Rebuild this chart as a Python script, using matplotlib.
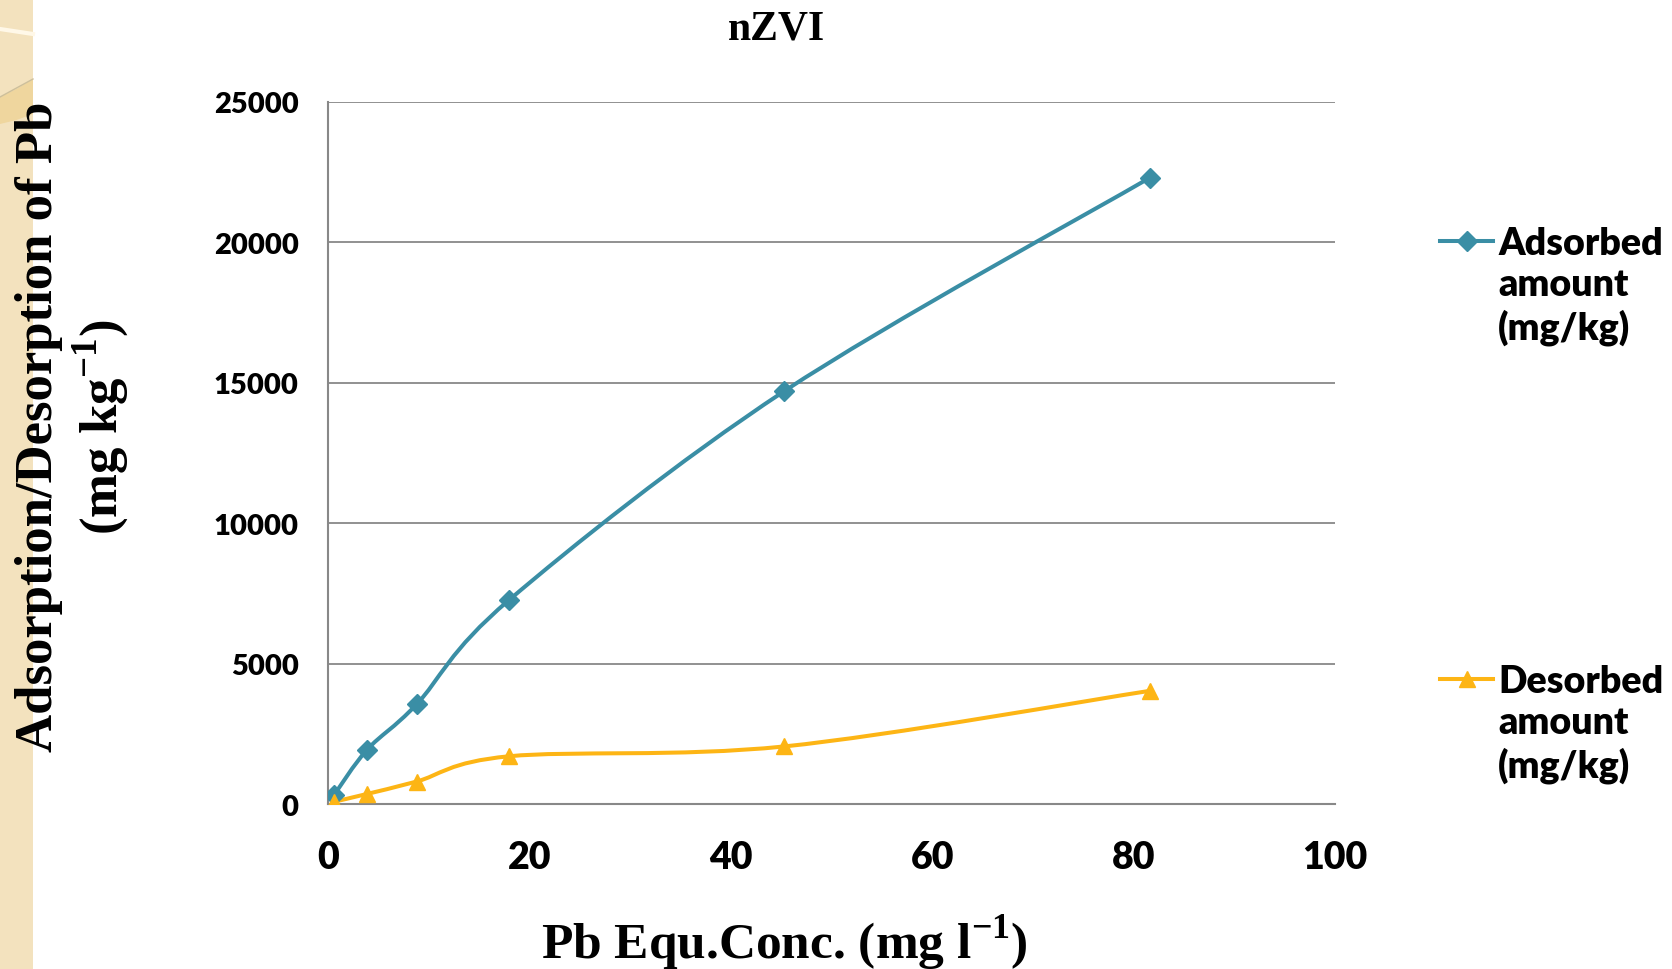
import numpy as np
import matplotlib
matplotlib.use("Agg")
import matplotlib.pyplot as plt
from matplotlib.path import Path
from matplotlib.patches import PathPatch, Rectangle, Polygon
from matplotlib.lines import Line2D

# data
conc = [0.6, 3.9, 8.8, 18.0, 45.3, 81.6]
adsorbed = [320, 1940, 3550, 7270, 14700, 22300]
desorbed = [80, 360, 800, 1700, 2050, 4030]

teal = "#3A8EA5"
gold = "#FDB515"
grid_c = "#888888"
serif = "Liberation Serif"
sans = "Lato"

plt.rcParams["mathtext.fontset"] = "custom"
plt.rcParams["mathtext.rm"] = "Liberation Serif:bold"
plt.rcParams["mathtext.bf"] = "Liberation Serif:bold"


def smooth_path(x, y):
    # excel style smoothed line: bezier with control points from neighbours
    p = np.column_stack([x, y]).astype(float)
    n = len(p)
    verts = [p[0]]
    codes = [Path.MOVETO]
    for i in range(n - 1):
        p0 = p[i - 1] if i > 0 else p[i]
        p3 = p[i + 2] if i + 2 < n else p[i + 1]
        c1 = p[i] + (p[i + 1] - p0) / 6
        c2 = p[i + 1] - (p3 - p[i]) / 6
        verts += [c1, c2, p[i + 1]]
        codes += [Path.CURVE4] * 3
    return Path(verts, codes)


fig = plt.figure(figsize=(16.72, 9.70), dpi=100)
ax = fig.add_axes([328 / 1672, 1 - 805 / 970, (1335 - 328) / 1672, (805 - 103) / 970])

for xs, ys, col, mk, ms in [(conc, adsorbed, teal, "D", 10), (conc, desorbed, gold, "^", 12)]:
    ax.add_patch(PathPatch(smooth_path(xs, ys), fill=False, ec=col, lw=2.9, zorder=3))
    ax.plot(xs, ys, ls="none", marker=mk, ms=ms, color=col, zorder=4)

ax.set_xlim(0, 100)
ax.set_ylim(0, 25000)
ax.set_xticks([0, 20, 40, 60, 80, 100])
ax.set_yticks(range(0, 25001, 5000))
ax.yaxis.grid(True, color=grid_c, lw=1.3)
ax.set_axisbelow(True)
for s in ["top", "right"]:
    ax.spines[s].set_visible(False)
for s in ["left", "bottom"]:
    ax.spines[s].set_color(grid_c)
    ax.spines[s].set_linewidth(1.5)
ax.tick_params(length=0)
ax.tick_params(axis="x", pad=26)
ax.tick_params(axis="y", pad=21)
for lab in ax.get_xticklabels():
    lab.set_fontfamily(sans)
    lab.set_fontweight("heavy")
    lab.set_fontsize(27)
for lab in ax.get_yticklabels():
    lab.set_fontfamily(sans)
    lab.set_fontweight("heavy")
    lab.set_fontsize(21)

fig.text(776 / 1672, 1 - 30 / 970, "nZVI", family=serif, weight="bold", fontsize=30,
         ha="center", va="center")
fig.text(784 / 1672, 1 - 943 / 970, r"Pb Equ.Conc. (mg l$^{-1}$)", family=serif,
         weight="bold", fontsize=37, ha="center", va="center")
fig.text(73 / 1672, 1 - 427 / 970, "Adsorption/Desorption of Pb\n" + r"(mg kg$^{-1}$)",
         family=serif, weight="bold", fontsize=38, rotation=90, ha="center", va="center",
         multialignment="center", linespacing=1.15)

# legend drawn by hand
for y0, col, mk, ms, name in [(242, teal, "D", 10, "Adsorbed"), (680, gold, "^", 12, "Desorbed")]:
    yf = 1 - y0 / 970
    fig.add_artist(Line2D([1440 / 1672, 1493 / 1672], [yf, yf], color=col, lw=2.9,
                          transform=fig.transFigure))
    fig.add_artist(Line2D([1466.5 / 1672], [yf], color=col, marker=mk, ms=ms,
                          transform=fig.transFigure))
    fig.text(1498 / 1672, yf + 15 / 970, name + "\namount\n(mg/kg)", family=sans,
             weight="heavy", fontsize=27, ha="left", va="top", linespacing=1.25)

# decorative strip on the left
W = 33 / 1672
fig.add_artist(Rectangle((0, 0), W, 1, transform=fig.transFigure,
                         fc="#F3E2BE", ec="none", zorder=0))
band = Polygon([(0, 1 - 98 / 970), (W * 0.5, 1 - 90 / 970), (W, 1 - 80 / 970),
                (W, 1 - 115 / 970), (W * 0.5, 1 - 121 / 970), (0, 1 - 125 / 970)],
               closed=True, transform=fig.transFigure, fc="#EFD69E", ec="none", zorder=0.5)
fig.add_artist(band)
fig.add_artist(Line2D([0, W], [1 - 98 / 970, 1 - 80 / 970], color="#CDBF9B", lw=1,
                      transform=fig.transFigure, zorder=0.6))
fig.add_artist(Line2D([0, W], [1 - 30 / 970, 1 - 35 / 970], color="#FFF8E8", lw=3,
                      transform=fig.transFigure, zorder=0.6))

fig.savefig("out.png", dpi=100)
